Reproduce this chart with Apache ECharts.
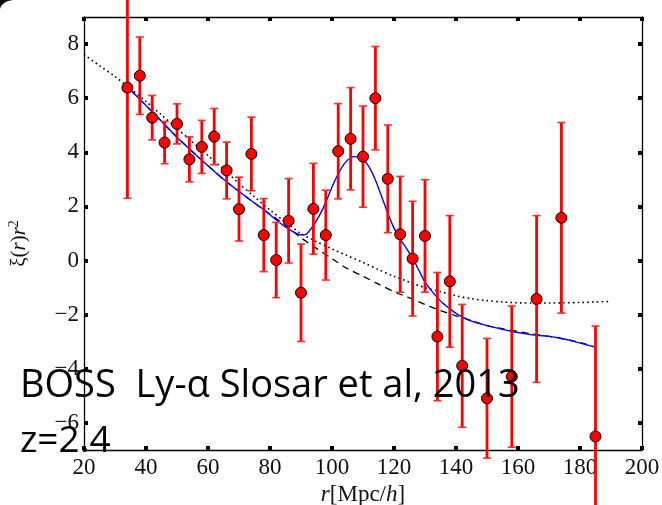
<!DOCTYPE html>
<html>
<head>
<meta charset="utf-8">
<script src="https://cdn.jsdelivr.net/npm/echarts@6/dist/echarts.min.js"></script>
<style>
  html, body { margin: 0; padding: 0; background: #fff; }
  #chart { width: 662px; height: 505px; }
</style>
</head>
<body>
<div id="chart"></div>
<script>
// Separation bins r [Mpc/h] and measured xi(r) r^2 with 1-sigma errors
const rBins = [34, 38, 42, 46, 50, 54, 58, 62, 66, 70, 74, 78, 82, 86, 90, 94, 98,
               102, 106, 110, 114, 118, 122, 126, 130, 134, 138, 142, 150, 158, 166, 174, 185];
const xiR2 = [6.39, 6.83, 5.28, 4.36, 5.05, 3.74, 4.20, 4.58, 3.33, 1.90, 3.94, 0.94, 0.02, 1.47, -1.19, 1.91, 0.94,
              4.04, 4.50, 3.84, 6.00, 3.02, 0.97, 0.07, 0.91, -2.81, -0.77, -3.89, -5.09, -4.29, -1.42, 1.58, -6.50];
const xiErr = [4.09, 1.43, 0.82, 0.78, 0.74, 0.83, 0.98, 1.04, 1.05, 1.18, 1.36, 1.35, 1.39, 1.56, 1.80, 1.68, 1.66,
               1.76, 1.89, 1.87, 1.91, 1.99, 2.14, 2.12, 2.08, 2.37, 2.43, 2.27, 2.21, 2.61, 3.08, 3.52, 4.08];

// Best-fit model with the acoustic peak (solid blue)
const peakR  = [35, 42, 50, 58, 66, 74, 78, 82, 86, 89, 90.5, 92, 94, 96, 98, 100, 102, 104, 106, 107.5, 109, 110.5,
                112, 114, 116, 118, 120, 122, 124, 126, 128, 130, 132, 134, 136, 138, 140, 142, 145, 148, 151, 155,
                158, 162, 166, 170, 173, 177, 181, 185];
const peakXi = [6.30, 5.50, 4.56, 3.71, 2.91, 2.21, 1.88, 1.50, 1.16, 0.98, 0.95, 1.0, 1.3, 1.68, 2.15, 2.72, 3.2,
                3.58, 3.80, 3.84, 3.79, 3.68, 3.45, 2.98, 2.37, 1.75, 1.2, 0.8, 0.45, 0.08, -0.35, -0.8, -1.1, -1.37,
                -1.6, -1.78, -1.95, -2.08, -2.24, -2.34, -2.43, -2.54, -2.62, -2.70, -2.76, -2.80, -2.85, -2.96, -3.08, -3.20];

// Model without the peak (dashed black)
const noPeakR  = [35, 42, 50, 58, 66, 74, 78, 82, 85, 90, 95, 100, 105, 110, 115, 120, 125, 130, 135, 140, 145,
                  150, 155, 160, 165, 170, 175, 180, 185];
const noPeakXi = [6.30, 5.50, 4.56, 3.71, 2.91, 2.21, 1.88, 1.55, 1.30, 0.84, 0.45, 0.07, -0.30, -0.58, -0.87,
                  -1.15, -1.38, -1.62, -1.85, -2.04, -2.22, -2.40, -2.52, -2.62, -2.72, -2.80, -2.90, -3.03, -3.20];

// Linear-theory correlation (dotted black)
const linR  = [20, 25, 30, 35, 40, 45, 50, 55, 60, 65, 70, 75, 80, 85, 90, 95, 100, 105, 110, 115, 120, 125,
               130, 135, 140, 145, 150, 155, 160, 165, 170, 175, 180, 185, 190];
const linXi = [7.62, 7.2, 6.8, 6.35, 5.88, 5.38, 4.88, 4.38, 3.88, 3.38, 2.85, 2.35, 1.87, 1.42, 1.0, 0.7, 0.43,
               0.18, -0.07, -0.33, -0.58, -0.8, -1.0, -1.15, -1.3, -1.41, -1.48, -1.53, -1.56, -1.57, -1.57, -1.56,
               -1.55, -1.53, -1.51];

// Tick labels
const xTicks = [20, 40, 60, 80, 100, 120, 140, 160, 180, 200];
const yTicks = [-6, -4, -2, 0, 2, 4, 6, 8];

const pairs = (xs, ys) => xs.map((x, i) => [x, ys[i]]);
const minusFmt = v => (v < 0 ? '\u2212' + Math.abs(v) : String(v));

const tickFont = { fontFamily: 'Liberation Serif', fontSize: 23, color: '#111' };
const squareTick = { show: true, inside: true, length: 4, lineStyle: { color: '#000', width: 4 } };
const frameLine = { show: true, onZero: false, lineStyle: { color: '#000', width: 1.3 } };

const chart = echarts.init(document.getElementById('chart'), null, { renderer: 'canvas' });

chart.setOption({
  animation: false,
  backgroundColor: '#fff',
  grid: { left: 84, top: 17, width: 558, height: 433, containLabel: false, outerBoundsMode: 'none' },
  xAxis: [
    {
      type: 'value', min: 20, max: 200, interval: 20, position: 'bottom',
      axisLine: frameLine, axisTick: squareTick, splitLine: { show: false },
      axisLabel: Object.assign({ margin: 6, formatter: v => (xTicks.includes(v) ? String(v) : '') }, tickFont),
      name: '{i|r}{n|[Mpc/}{i|h}{n|]}', nameLocation: 'middle', nameGap: 32,
      nameTextStyle: {
        rich: {
          i: { fontFamily: 'Liberation Serif', fontStyle: 'italic', fontSize: 23, color: '#111' },
          n: { fontFamily: 'Liberation Serif', fontSize: 23, color: '#111' }
        }
      }
    },
    {
      type: 'value', min: 20, max: 200, interval: 20, position: 'top',
      axisLine: frameLine, axisTick: squareTick, splitLine: { show: false }, axisLabel: { show: false }
    }
  ],
  yAxis: [
    {
      type: 'value', min: -7, max: 9, position: 'left',
      axisLine: frameLine, splitLine: { show: false },
      axisTick: Object.assign({ customValues: yTicks }, squareTick),
      axisLabel: Object.assign({ customValues: yTicks, margin: 5, formatter: minusFmt }, tickFont),
      name: '{n|\u03BE(}{i|r}{n|)}{i|r}{s|2}', nameLocation: 'middle', nameRotate: 90, nameGap: 53,
      nameTextStyle: {
        padding: [0, 20, 0, 0],
        rich: {
          i: { fontFamily: 'Liberation Serif', fontStyle: 'italic', fontSize: 21, color: '#111' },
          n: { fontFamily: 'Liberation Serif', fontSize: 21, color: '#111' },
          s: { fontFamily: 'Liberation Serif', fontSize: 14, color: '#111', verticalAlign: 'top', padding: [0, 0, 10, 0] }
        }
      }
    },
    {
      type: 'value', min: -7, max: 9, position: 'right',
      axisLine: frameLine, splitLine: { show: false },
      axisTick: Object.assign({ customValues: yTicks }, squareTick),
      axisLabel: { show: false, customValues: yTicks }
    }
  ],
  series: [
    {
      type: 'line', data: pairs(linR, linXi), smooth: 0.3, showSymbol: false, z: 2,
      lineStyle: { color: '#000', width: 1.6, type: [1.6, 3.2] }
    },
    {
      type: 'line', data: pairs(noPeakR, noPeakXi), smooth: 0.3, showSymbol: false, z: 2,
      lineStyle: { color: '#000', width: 1.3, type: [7, 5] }
    },
    {
      type: 'line', data: pairs(peakR, peakXi), smooth: 0.3, showSymbol: false, z: 3,
      lineStyle: { color: '#0000ff', width: 1.4 }
    },
    {
      // vertical error bars with short caps
      type: 'custom', clip: false, z: 4,
      data: rBins.map((r, i) => [r, xiR2[i], xiErr[i]]),
      renderItem: (params, api) => {
        const r = api.value(0), y = api.value(1), e = api.value(2);
        const top = api.coord([r, y + e]);
        const bot = api.coord([r, y - e]);
        const cap = 4;
        return {
          type: 'group',
          children: [
            { type: 'line', shape: { x1: top[0], y1: top[1], x2: bot[0], y2: bot[1] },
              style: { stroke: '#ff0000', lineWidth: 2.8 } },
            { type: 'line', shape: { x1: top[0] - cap, y1: top[1], x2: top[0] + cap, y2: top[1] },
              style: { stroke: '#ff2a2a', lineWidth: 1.6 } },
            { type: 'line', shape: { x1: bot[0] - cap, y1: bot[1], x2: bot[0] + cap, y2: bot[1] },
              style: { stroke: '#ff2a2a', lineWidth: 1.6 } }
          ]
        };
      }
    },
    {
      type: 'scatter', data: pairs(rBins, xiR2), symbol: 'circle', symbolSize: 11, z: 5,
      itemStyle: { color: '#ff0000', borderColor: '#000', borderWidth: 1, opacity: 1 }
    }
  ],
  graphic: [
    {
      type: 'polygon', z: 100,
      shape: { points: [[0, 0], [13, 0], [8, 1], [4, 3], [1, 6], [0, 9]] },
      style: { fill: '#000' }
    },
    {
      type: 'text', z: 100,
      style: { x: 20, y: 386, text: 'BOSS  Ly-\u03B1 Slosar et al, 2013', verticalAlign: 'middle',
               font: '38px "Open Sans"', fill: '#000' }
    },
    {
      type: 'text', z: 100,
      style: { x: 20, y: 441, text: 'z=2.4', verticalAlign: 'middle',
               font: '37px "Open Sans"', fill: '#000' }
    }
  ]
});
</script>
</body>
</html>
